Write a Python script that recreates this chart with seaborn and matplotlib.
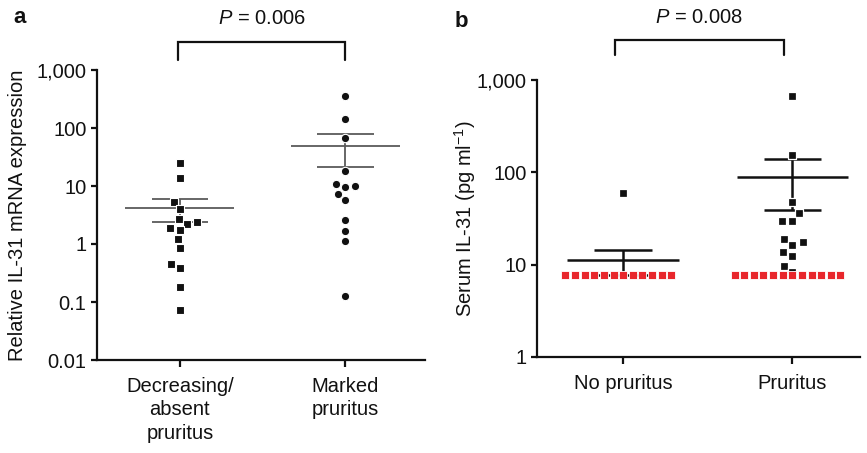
import matplotlib
matplotlib.use("Agg")
import matplotlib.pyplot as plt
import matplotlib.transforms as mtransforms
from matplotlib.ticker import NullLocator
import numpy as np
import pandas as pd
import seaborn as sns

# --- panel a: relative IL-31 mRNA expression ---
groups_a = ["Decreasing/\nabsent\npruritus", "Marked\npruritus"]
mrna_low = [25.2, 13.9, 5.4, 4.0, 2.7, 2.4, 2.2, 1.9, 1.74, 1.2, 0.84, 0.45, 0.39, 0.18, 0.074]
mrna_high = [356, 145, 67, 18.4, 10.7, 10.1, 9.6, 7.4, 5.8, 2.6, 1.7, 1.14, 0.125]
mean_a = [4.1, 49]
sem_lo_a = [2.4, 21]
sem_hi_a = [5.9, 78]
yticks_a = [0.01, 0.1, 1, 10, 100, 1000]
ylabels_a = ["0.01", "0.1", "1", "10", "100", "1,000"]
p_text_a = "$P$ = 0.006"

# --- panel b: serum IL-31 ---
groups_b = ["No pruritus", "Pruritus"]
serum_no = [59]
serum_yes = [671, 154, 48, 36.5, 29.7, 29.7, 18.8, 17.5, 16.3, 13.7, 12.4, 9.75, 8.4]
below_lod_no = [7.7] * 12   # red squares: below detection limit
below_lod_yes = [7.7] * 12
mean_b = [11.1, 89]
sem_lo_b = [7.7, 38.7]
sem_hi_b = [14.5, 139]
yticks_b = [1, 10, 100, 1000]
ylabels_b = ["1", "10", "100", "1,000"]
p_text_b = "$P$ = 0.008"

INK = "#111111"
RED = "#e8262b"

sns.set_style("ticks")
plt.rcParams["font.family"] = ["Liberation Sans", "DejaVu Sans"]
plt.rcParams["mathtext.fontset"] = "custom"
plt.rcParams["mathtext.rm"] = "Liberation Sans"
plt.rcParams["mathtext.it"] = "Liberation Sans:italic"
for key in ["text.color", "axes.labelcolor", "xtick.color", "ytick.color"]:
    plt.rcParams[key] = INK

df_a = pd.DataFrame({
    "group": [groups_a[0]] * len(mrna_low) + [groups_a[1]] * len(mrna_high),
    "value": mrna_low + mrna_high,
})
df_b = pd.DataFrame({
    "group": [groups_b[0]] * len(serum_no) + [groups_b[1]] * len(serum_yes),
    "value": serum_no + serum_yes,
})
df_lod = pd.DataFrame({
    "group": [groups_b[0]] * len(below_lod_no) + [groups_b[1]] * len(below_lod_yes),
    "value": below_lod_no + below_lod_yes,
})

fig = plt.figure(figsize=(8.67, 4.53), dpi=100)
ax_a = fig.add_axes([97 / 867, 1 - 360 / 453, 328 / 867, 290 / 453])
ax_b = fig.add_axes([537 / 867, 1 - 357 / 453, 323 / 867, 277 / 453])


def mean_sem(ax, means, lo, hi, color, lw, half=0.33, cap=0.17):
    x = np.arange(len(means))
    ax.hlines(means, x - half, x + half, color=color, lw=lw, zorder=2)
    ax.hlines(lo, x - cap, x + cap, color=color, lw=lw, zorder=2)
    ax.hlines(hi, x - cap, x + cap, color=color, lw=lw, zorder=2)
    ax.vlines(x, lo, hi, color=color, lw=lw, zorder=2)


def bracket(ax, x0, x1, leg, top, text):
    trans = mtransforms.blended_transform_factory(ax.transData, ax.transAxes)
    ax.plot([x0, x0, x1, x1], [leg, top, top, leg], transform=trans,
            clip_on=False, color=INK, lw=1.6, solid_joinstyle="miter")
    ax.text((x0 + x1) / 2, top + 0.06, text, transform=trans, ha="center",
            va="baseline", fontsize=14.5)


def style_axis(ax, ticks, labels, ylim):
    sns.despine(ax=ax)
    ax.set_ylim(*ylim)
    ax.set_yticks(ticks, labels)
    ax.yaxis.set_minor_locator(NullLocator())
    for side in ["left", "bottom"]:
        ax.spines[side].set_linewidth(1.6)
        ax.spines[side].set_color(INK)
    ax.tick_params(axis="y", length=4.5, width=1.6, color=INK, labelsize=14.5, pad=3)
    ax.tick_params(axis="x", length=5, width=1.6, color=INK, labelsize=14.5, pad=7)
    ax.set_xlabel("")


# panel a
mean_sem(ax_a, mean_a, sem_lo_a, sem_hi_a, "#5a5a5a", 1.3)
sns.swarmplot(data=df_a[df_a["group"] == groups_a[0]], x="group", y="value", order=groups_a,
              ax=ax_a, marker="s", size=5.8, color=INK, edgecolor="white", linewidth=0.8,
              log_scale=True, zorder=3)
sns.swarmplot(data=df_a[df_a["group"] == groups_a[1]], x="group", y="value", order=groups_a,
              ax=ax_a, marker="o", size=6.0, color=INK, edgecolor="white", linewidth=0.8,
              log_scale=True, zorder=3)
style_axis(ax_a, yticks_a, ylabels_a, (0.01, 1000))
ax_a.set_xlim(-0.5, 1.48)
for lab in ax_a.get_xticklabels():
    lab.set_linespacing(1.3)
ax_a.set_ylabel("Relative IL-31 mRNA expression", fontsize=14.5)
ax_a.yaxis.set_label_coords(-0.213, 0.5)
bracket(ax_a, -0.01, 1.0, 1.034, 1.097, p_text_a)

# panel b
mean_sem(ax_b, mean_b, sem_lo_b, sem_hi_b, INK, 1.8)
sns.swarmplot(data=df_b, x="group", y="value", order=groups_b, ax=ax_b, marker="s",
              size=6.4, color=INK, edgecolor="white", linewidth=0.9, log_scale=True, zorder=3)
sns.swarmplot(data=df_lod, x="group", y="value", order=groups_b, ax=ax_b, marker="s",
              size=6.0, color=RED, edgecolor="white", linewidth=0.6, log_scale=True, zorder=4)
style_axis(ax_b, yticks_b, ylabels_b, (1, 1000))
ax_b.set_xlim(-0.51, 1.4)
ax_b.set_ylabel("Serum IL-31 (pg ml$^{-1}$)", fontsize=14.5)
ax_b.yaxis.set_label_coords(-0.183, 0.5)
bracket(ax_b, -0.05, 0.95, 1.090, 1.144, p_text_b)

fig.text(13 / 867, 1 - 23 / 453, "a", fontsize=16, fontweight="bold", va="baseline")
fig.text(455 / 867, 1 - 27 / 453, "b", fontsize=16, fontweight="bold", va="baseline")

fig.savefig("out.png", dpi=100)
